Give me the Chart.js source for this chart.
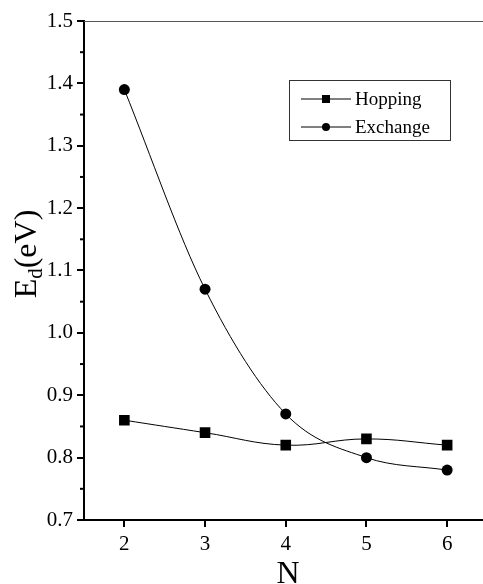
<!DOCTYPE html>
<html>
<head>
<meta charset="utf-8">
<script src="https://cdn.jsdelivr.net/npm/chart.js@4"></script>
<style>
    html, body { margin: 0; padding: 0; background: #fff; overflow: hidden; }
    #wrap { width: 495px; height: 584px; }
</style>
</head>
<body>
<div id="wrap"><canvas id="chart" width="495" height="584"></canvas></div>
<script>
// data
const nValues = [2, 3, 4, 5, 6];
const hopping = [0.86, 0.84, 0.82, 0.83, 0.82];
const exchange = [1.39, 1.07, 0.87, 0.80, 0.78];
const yTicks = [0.7, 0.8, 0.9, 1.0, 1.1, 1.2, 1.3, 1.4, 1.5];
const seriesNames = ['Hopping', 'Exchange'];

const FONT = '"Liberation Serif", "Times New Roman", serif';

function toPoints(xs, ys) {
    return xs.map((x, i) => ({ x: x, y: ys[i] }));
}

// --- plugin: frame, minor ticks, axis titles, legend box ---
const extras = {
    id: 'extras',
    afterDraw(chart) {
        const ctx = chart.ctx;
        const area = chart.chartArea;
        const ys = chart.scales.y;
        ctx.save();

        // top border
        ctx.strokeStyle = '#555';
        ctx.lineWidth = 1;
        ctx.beginPath();
        ctx.moveTo(area.left, area.top + 0.5);
        ctx.lineTo(area.right, area.top + 0.5);
        ctx.stroke();

        // minor y ticks
        ctx.strokeStyle = '#000';
        ctx.lineWidth = 2;
        for (let i = 0; i < yTicks.length - 1; i++) {
            const py = ys.getPixelForValue((yTicks[i] + yTicks[i + 1]) / 2);
            ctx.beginPath();
            ctx.moveTo(area.left - 4, py);
            ctx.lineTo(area.left, py);
            ctx.stroke();
        }

        // x title
        ctx.fillStyle = '#000';
        ctx.font = '32px ' + FONT;
        ctx.textAlign = 'center';
        ctx.textBaseline = 'alphabetic';
        ctx.fillText('N', 288, 583);

        // y title with subscript
        ctx.translate(36, 254);
        ctx.rotate(-Math.PI / 2);
        ctx.textAlign = 'left';
        ctx.font = '32px ' + FONT;
        const wE = ctx.measureText('E').width;
        ctx.font = '21px ' + FONT;
        const wd = ctx.measureText('d').width;
        ctx.font = '32px ' + FONT;
        const wR = ctx.measureText('(eV)').width;
        let x0 = -(wE + wd + wR) / 2;
        ctx.fillText('E', x0, 0);
        ctx.font = '21px ' + FONT;
        ctx.fillText('d', x0 + wE, 6);
        ctx.font = '32px ' + FONT;
        ctx.fillText('(eV)', x0 + wE + wd, 0);
        ctx.restore();

        // legend
        ctx.save();
        const lx = 289, ly = 80, lw = 161, lh = 60;
        ctx.fillStyle = '#fff';
        ctx.fillRect(lx, ly, lw, lh);
        ctx.strokeStyle = '#333';
        ctx.lineWidth = 1;
        ctx.strokeRect(lx + 0.5, ly + 0.5, lw, lh);
        chart.data.datasets.forEach((ds, i) => {
            const cy = ly + 19 + i * 28;
            ctx.strokeStyle = '#000';
            ctx.lineWidth = 1;
            ctx.beginPath();
            ctx.moveTo(lx + 12, cy);
            ctx.lineTo(lx + 62, cy);
            ctx.stroke();
            ctx.fillStyle = '#000';
            if (ds.pointStyle === 'rect') {
                ctx.fillRect(lx + 33, cy - 4, 8, 8);
            } else {
                ctx.beginPath();
                ctx.arc(lx + 37, cy, 4, 0, Math.PI * 2);
                ctx.fill();
            }
            ctx.font = '19px ' + FONT;
            ctx.textAlign = 'left';
            ctx.textBaseline = 'middle';
            ctx.fillText(ds.label, lx + 66, cy + 1);
        });
        ctx.restore();
    }
};

new Chart(document.getElementById('chart'), {
    type: 'line',
    data: {
        datasets: [
            {
                label: seriesNames[0],
                data: toPoints(nValues, hopping),
                borderColor: '#000',
                borderWidth: 1,
                backgroundColor: '#000',
                pointStyle: 'rect',
                pointRadius: 7.5,
                pointBorderWidth: 0,
                tension: 0.4
            },
            {
                label: seriesNames[1],
                data: toPoints(nValues, exchange),
                borderColor: '#000',
                borderWidth: 1,
                backgroundColor: '#000',
                pointStyle: 'circle',
                pointRadius: 5.5,
                pointBorderWidth: 0,
                cubicInterpolationMode: 'monotone'
            }
        ]
    },
    options: {
        responsive: false,
        animation: false,
        layout: { padding: { top: 21, right: 0, left: 0, bottom: 0 } },
        plugins: {
            legend: { display: false },
            tooltip: { enabled: false }
        },
        scales: {
            x: {
                type: 'linear',
                min: 1.5,
                max: 6.5,
                afterBuildTicks: s => { s.ticks = nValues.map(v => ({ value: v })); },
                afterFit: s => { s.height = 64; },
                border: { display: true, color: '#000', width: 2 },
                grid: { drawOnChartArea: false, drawTicks: true, tickLength: 7, color: '#000', lineWidth: 2 },
                ticks: {
                    color: '#000',
                    padding: 5,
                    font: { family: FONT, size: 21 },
                    callback: v => String(v)
                }
            },
            y: {
                min: 0.7,
                max: 1.5,
                afterBuildTicks: s => { s.ticks = yTicks.map(v => ({ value: v })); },
                afterFit: s => { s.width = 84; },
                border: { display: true, color: '#000', width: 2 },
                grid: { drawOnChartArea: false, drawTicks: true, tickLength: 7, color: '#000', lineWidth: 2 },
                ticks: {
                    color: '#000',
                    padding: 4,
                    font: { family: FONT, size: 21 },
                    callback: v => v.toFixed(1)
                }
            }
        }
    },
    plugins: [extras]
});
</script>
</body>
</html>
